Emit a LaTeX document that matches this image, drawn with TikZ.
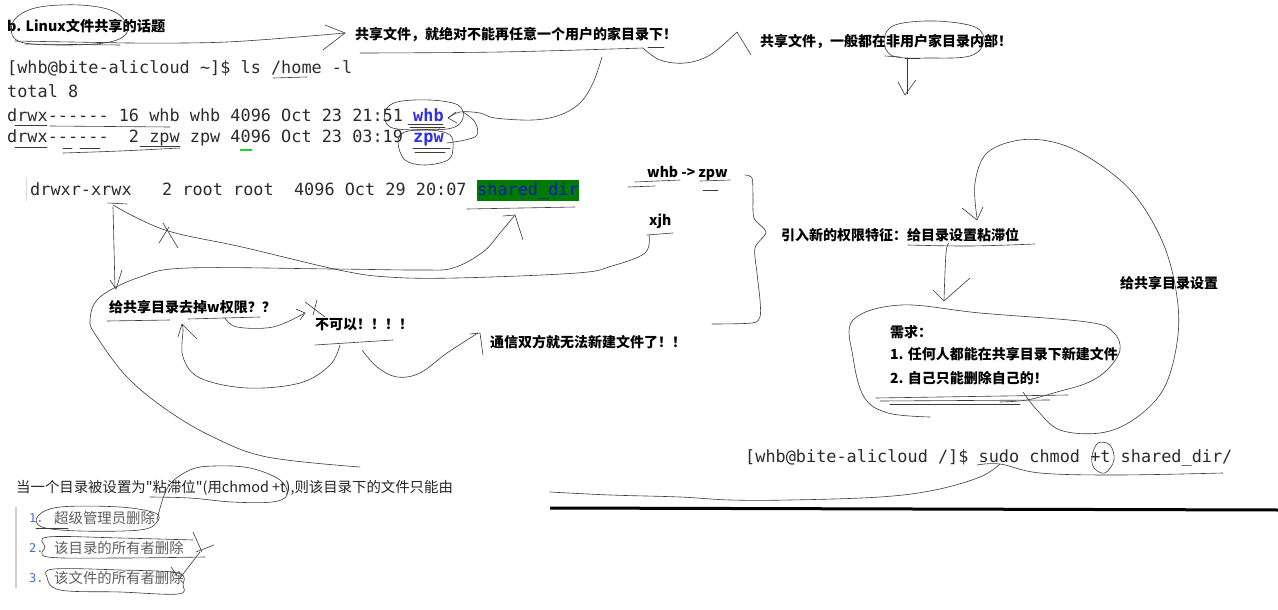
\documentclass[tikz,border=0pt]{standalone}
\usepackage{fontspec}
\usepackage{xcolor}
\usepackage{tikz}
\usetikzlibrary{positioning}
\setmonofont{DejaVu Sans Mono}
\newfontfamily\cjk{Noto Sans CJK SC}
\definecolor{inkline}{HTML}{3A3A3A}
\definecolor{shell}{HTML}{2B2B2B}
\definecolor{userblue}{HTML}{2F2FE6}
\definecolor{dirgreen}{HTML}{007A00}
\definecolor{dirblue}{HTML}{1414C8}
\definecolor{marker}{HTML}{1FD61F}
\definecolor{listgray}{HTML}{5E5E5E}
\definecolor{listblue}{HTML}{3D6FE0}
\definecolor{quotebar}{HTML}{CFCFCF}
\newcommand{\hintfont}{\cjk\bfseries\fontsize{14}{17}\selectfont}
\newcommand{\shellfont}{\ttfamily\fontsize{16.86}{20}\selectfont}
\newcommand{\bodyfont}{\cjk\fontsize{14.4}{17}\selectfont}

\begin{document}
\begin{tikzpicture}[x=1pt, y=-1pt,
    ink/.style={draw=inkline, line width=0.6pt, line cap=round, line join=round},
    hint/.style={font=\hintfont, anchor=west, inner sep=0pt, text=black},
    term/.style={font=\shellfont, anchor=west, inner sep=0pt, text=shell},
    body/.style={font=\bodyfont, anchor=west, inner sep=0pt, text=#1},
    body/.default=black!85]
    \useasboundingbox[fill=white] (0,0) rectangle (1278,610);

    % Title and the two rules about shared files
    \node[hint, font=\cjk\bfseries\fontsize{14.2}{17}\selectfont] (topic) at (7,26) {b. Linux文件共享的话题};
    \node[hint] (nohome) at (355,35) {共享文件，就绝对不能再任意一个用户的家目录下！};
    \node[hint] (outside) at (760,42) {共享文件，一般都在非用户家目录内部！};

    % Terminal: listing of /home
    \node[term] (lscmd) at (7,68) {[whb@bite-alicloud \textasciitilde]\$ ls /home -l};
    \node[term] (total) at (7,91) {total 8};
    \node[term] (homewhb) at (7,115) {drwx------ 16 whb whb 4096 Oct 23 21:51 {\color{userblue}\bfseries whb}};
    \node[term] (homezpw) at (7,138) {drwx------\ \ 2 zpw zpw 4096 Oct 23 03:19 {\color{userblue}\bfseries zpw}};

    % Terminal: the shared directory
    \draw[draw=quotebar!60!blue!30, line width=1pt] (26,178) -- (26,201);
    \node[term] (rootline) at (30,189) {drwxr-xrwx\ \ \ 2 root root\ \ 4096 Oct 29 20:07};
    \node[term, anchor=base west, fill=dirgreen, text=dirblue, text height=15pt, text depth=6pt, xshift=10.15pt] (shareddir) at (rootline.base east) {shared\_dir};

    % Side notes
    \node[hint] (users) at (647,173) {whb -> zpw};
    \node[hint] (xjh) at (649,221) {xjh};
    \node[hint] (sticky) at (781,235) {引入新的权限特征：给目录设置粘滞位};
    \node[hint] (setdir) at (1120,283) {给共享目录设置};
    \node[hint] (need) at (890,332) {需求：};
    \node[hint] (needone) at (890,354) {1. 任何人都能在共享目录下新建文件};
    \node[hint] (needtwo) at (890,378) {2. 自己只能删除自己的！};
    \node[hint] (dropw) at (109,307) {给共享目录去掉w权限？？};
    \node[hint] (nope) at (315,325) {不可以！！！！};
    \node[hint] (nofile) at (490,342) {通信双方就无法新建文件了！！};

    % chmod command
    \node[term] (chmod) at (745,458) {[whb@bite-alicloud /]\$ sudo chmod +t shared\_dir/};

    % Quoted explanation at the bottom
    \node[body] (explain) at (16,488) {当一个目录被设置为"粘滞位"(用chmod +t),则该目录下的文件只能由};
    \draw[quotebar, line width=2pt] (16,507) -- (16,588);
    \foreach \n/\txt/\y in {1/超级管理员删除/518, 2/该目录的所有者删除/548, 3/该文件的所有者删除/578} {
        \node[anchor=west, inner sep=0pt, text=listblue, font=\ttfamily\fontsize{12}{14}\selectfont] (num\n) at (29,\y) {\n.};
        \node[body=listgray] (item\n) at (54,\y) {\txt};
    }

    % Pen strokes round the title
    \draw[ink] plot[smooth cycle, tension=.6] coordinates {(13,22) (35,8) (80,5) (115,12) (128,30) (110,42) (60,45) (18,41)};
    \draw[ink] (15,41) -- (128,43);
    \draw[ink] (25,44) -- (120,45);
    \draw[ink] plot[smooth, tension=.6] coordinates {(128,43) (227,42) (345,33)};
    \draw[ink] (325,25) -- (345,33) -- (323,50);

    % Underline and arc to the second rule
    \draw[ink] plot[smooth, tension=.6] coordinates {(360,53) (500,52) (643,48)};
    \draw[ink] (648,47) -- (664,47);
    \draw[ink] plot[smooth, tension=.6] coordinates {(643,48) (660,60) (685,63) (710,55) (737,32)};
    \draw[ink] (737,32) -- (751,55);
    \draw[ink] plot[smooth cycle, tension=.6] coordinates {(884,40) (895,25) (935,21) (975,27) (984,42) (970,56) (930,58) (893,56)};
    \draw[ink] (885,56) -- (900,57);
    \draw[ink] (905,58) -- (920,58);
    \draw[ink] (907,58) -- (907,94);
    \draw[ink] (898,82) -- (905,95) -- (916,80);

    % Back from the rule to the home directories
    \draw[ink] plot[smooth, tension=.6] coordinates {(602,57) (593,83) (580,103) (560,115) (533,120) (495,118) (480,113) (460,112) (448,118)};
    \draw[ink] (456,112) -- (448,118) -- (457,123);
    \draw[ink] plot[smooth cycle, tension=.6] coordinates {(385,112) (397,102) (430,100) (458,105) (463,118) (452,128) (420,130) (390,127)};
    \draw[ink] plot[smooth, tension=.6] coordinates {(463,112) (475,122) (477,135) (465,140) (447,143)};
    \draw[ink] plot[smooth cycle, tension=.6] coordinates {(398,142) (405,132) (430,130) (450,135) (453,148) (448,160) (425,165) (405,160)};
    \draw[ink] (408,124) -- (443,124);
    \draw[ink] (410,127) -- (445,127);
    \draw[ink] (412,130) -- (440,129);
    \draw[ink] (413,148) -- (450,148);
    \draw[ink] (415,152) -- (445,152);
    \draw[ink] (273,78) -- (307,77);

    % Marks under the permission columns
    \draw[ink] (15,125) -- (47,125);
    \draw[ink] (50,126) -- (170,127);
    \draw[ink] (15,147) -- (47,147);
    \draw[ink] (63,148) -- (72,148);
    \draw[ink] (80,148) -- (100,148);
    \draw[ink] plot[smooth, tension=.6] coordinates {(63,153) (120,151) (180,148)};
    \draw[ink] (140,146) -- (180,146);
    \draw[marker, line width=2.5pt] (240,150) -- (252,150);

    % Users around the shared directory
    \draw[ink] (635,182) -- (680,180);
    \draw[ink] (628,187) -- (655,186);
    \draw[ink] (700,181) -- (730,180);
    \draw[ink] (703,190) -- (718,190);
    \draw[ink] (647,235) -- (673,233);
    \draw[ink] plot[smooth, tension=.6] coordinates {(649,235) (645,253) (612,266) (577,273) (456,278) (388,277) (339,270) (242,247) (165,230) (113,205)};
    \draw[ink] (108,203) -- (127,204);
    \draw[ink] (163,223) -- (178,248);
    \draw[ink] (159,243) -- (169,227);
    \draw[ink] (113,207) -- (115,288);
    \draw[ink] (122,270) -- (116,289) -- (110,280);

    % Big loop up to shared_dir
    \draw[ink] plot[smooth, tension=.6] coordinates {(360,467) (267,457) (213,437) (167,410) (127,377) (97,337) (90,320) (100,297) (140,277) (187,268) (333,269) (420,270) (453,268) (483,252) (500,233) (515,215)};
    \draw[ink] (503,216) -- (515,215) -- (523,240);
    \draw[ink] (467,209) -- (575,207);

    % Dropping w is no answer
    \draw[ink] (107,321) -- (170,320);
    \draw[ink] (188,319) -- (260,317);
    \draw[ink] plot[smooth, tension=.6] coordinates {(225,318) (237,327) (273,327) (305,313)};
    \draw[ink] (296,309) -- (305,313) -- (300,320);
    \draw[ink] (305,302) -- (325,317);
    \draw[ink] (317,300) -- (313,315);
    \draw[ink] (315,345) -- (393,340);
    \draw[ink] plot[smooth, tension=.6] coordinates {(340,345) (330,365) (300,383) (247,388) (200,378) (183,357) (183,330) (182,324)};
    \draw[ink] (178,337) -- (182,324) -- (197,339);
    \draw[ink] plot[smooth, tension=.6] coordinates {(362,350) (377,367) (397,377) (420,373) (447,353) (478,333)};
    \draw[ink] (470,334) -- (480,333) -- (483,355);

    % Brace over the cases
    \draw[ink] plot[smooth, tension=.5] coordinates {(745,175) (752,178) (753,195) (754,218) (766,232) (755,248) (757,273) (760,300) (760,317) (752,323) (712,324)};

    % Sticky bit and the two needs
    \draw[ink] plot[smooth, tension=.6] coordinates {(908,245) (970,246) (1035,244)};
    \draw[ink] plot[smooth, tension=.6] coordinates {(949,243) (946,253) (944,300)};
    \draw[ink] (933,290) -- (944,301) -- (970,278);
    \draw[ink] plot[smooth, tension=.6] coordinates {(930,417) (888,413) (864,397) (853,357) (853,320) (901,305) (980,313) (1087,322) (1113,332) (1120,350) (1107,370) (1087,383) (1057,392) (1027,400) (1000,402)};
    \draw[ink] (876,398) -- (1068,395);
    \draw[ink] (880,401) -- (1050,400);
    \draw[ink] (890,404) -- (1020,404);
    \draw[ink] plot[smooth, tension=.6] coordinates {(1023,392) (1037,410) (1060,430) (1100,433) (1133,420) (1163,390) (1177,343) (1177,297) (1163,243) (1133,193) (1093,160) (1057,143) (1020,140) (987,153) (975,183) (977,218)};
    \draw[ink] (962,208) -- (977,220) -- (983,207);

    % The chmod line
    \draw[ink] plot[smooth cycle, tension=.6] coordinates {(1092,456) (1098,443) (1110,445) (1114,460) (1105,473) (1094,468)};
    \draw[ink] plot[smooth, tension=.6] coordinates {(977,465) (1000,464) (1040,473) (1117,475) (1223,473)};
    \draw[ink] plot[smooth, tension=.6] coordinates {(1000,464) (980,477) (935,490) (880,497) (790,500) (730,500) (680,497) (610,495) (550,492)};
    \draw[black, line width=3pt] (550,508) -- (1278,510);

    % Marks on the quoted list
    \draw[ink] plot[smooth, tension=.6] coordinates {(157,520) (168,487) (190,470) (214,466) (250,468) (280,480) (287,495) (272,502) (232,502) (190,498) (150,497)};
    \draw[ink] plot[smooth cycle, tension=.6] coordinates {(38,516) (60,507) (120,507) (155,513) (157,522) (140,530) (80,531) (42,527)};
    \draw[ink] (36,528) -- (68,528);
    \draw[ink] plot[smooth, tension=.6] coordinates {(193,540) (120,538) (48,537) (45,547) (48,557) (120,558) (205,557)};
    \draw[ink] (193,532) -- (202,552);
    \draw[ink] (196,552) -- (214,545);
    \draw[ink] (200,552) -- (180,578);
    \draw[ink] plot[smooth cycle, tension=.6] coordinates {(47,577) (54,569) (120,570) (178,573) (183,585) (178,594) (120,592) (60,590)};
    \draw[ink] (171,567) -- (177,575);
\end{tikzpicture}
\end{document}
